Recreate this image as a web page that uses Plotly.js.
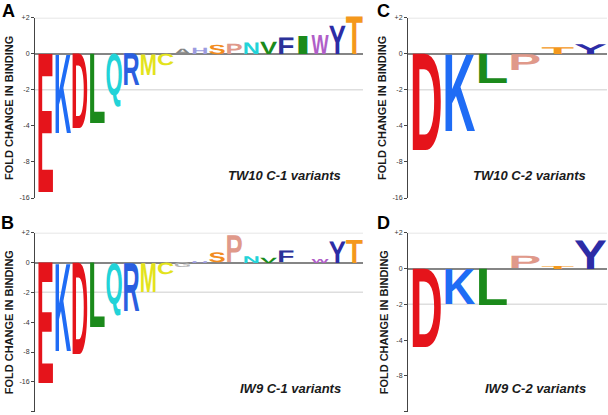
<!DOCTYPE html>
<html>
<head>
<meta charset="utf-8">
<script src="https://cdn.plot.ly/plotly-3.0.1.min.js"></script>
<style>
html,body{margin:0;padding:0;background:#ffffff;}
#chart{width:608px;height:415px;}
</style>
</head>
<body>
<div id="chart"></div>
<script>
// ---- data (signed fold change in binding; 1 = no change) ----
const lettersA = ['E','K','D','L','Q','R','M','C','A','H','S','P','N','V','F','I','W','Y','T'];
const foldA    = [-14.3,-4.6,-4.2,-3.8,-2.8,-1.84,-1.49,-1.25,1.11,1.13,1.2,1.22,1.25,1.27,1.38,1.42,1.44,1.72,2.08];

const lettersB = ['E','K','D','L','Q','R','M','C','G','H','S','P','N','V','F','I','W','Y','T'];
const foldB    = [-16.6,-7.8,-8.4,-4.5,-3.4,-3.05,-1.97,-1.31,-1.12,1.04,1.26,1.88,1.17,1.13,1.31,1.0,1.1,1.65,1.72];

const lettersC = ['D','K','L','P','T','Y'];
const foldC    = [-6.4,-4.45,-1.76,-1.36,1.14,1.21];

const lettersD = ['D','K','L','P','T','Y'];
const foldD    = [-4.57,-1.98,-2.02,1.27,1.06,1.74];

const tickFolds16 = [2,1,-2,-4,-8,-16];
const tickText16  = ['+2','0','-2','-4','-8','-16'];
const tickFolds32 = [2,1,-2,-4,-8,-16,-32];
const tickText32  = ['+2','0','-2','-4','-8','-16','-32'];
const gridFolds   = [2,-2];

const panelTags   = ['A','B','C','D'];
const panelNotes  = ['TW10 C-1 variants','IW9 C-1 variants','TW10 C-2 variants','IW9 C-2 variants'];
const yTitle      = 'FOLD CHANGE IN BINDING';

const residueColors = {
  E:'#e5141b', D:'#e5141b', K:'#1f6cf5', R:'#2a5fe0', L:'#1b8a1b', V:'#1b8a1b', I:'#1b8a1b',
  Q:'#22d3d8', N:'#22d3d8', M:'#e3e31c', C:'#e3e31c', G:'#b4b4b4', A:'#858585',
  H:'#9c9ce0', S:'#f28c1e', T:'#f4981c', P:'#e0998a', F:'#2b3199', Y:'#2c2ca6', W:'#b05ec8'
};

// ---- helpers ----
const toLog = f => f > 0 ? Math.log2(f) : -Math.log2(-f);
const FONT = 'Liberation Sans';
const GLYPH_SIZE = 100;

const panels = [
  {letters: lettersA, fold: foldA, xa:'x',  ya:'y'},
  {letters: lettersB, fold: foldB, xa:'x2', ya:'y2'},
  {letters: lettersC, fold: foldC, xa:'x3', ya:'y3'},
  {letters: lettersD, fold: foldD, xa:'x4', ya:'y4'}
];

const traces = panels.map(p => ({
  type:'scatter', mode:'text', xaxis:p.xa, yaxis:p.ya,
  x: p.letters,
  y: p.fold.map(f => toLog(f) / 2),
  text: p.letters,
  textposition:'middle center',
  textfont:{family:FONT, size:GLYPH_SIZE, weight:'bold', color:p.letters.map(l => residueColors[l])},
  hoverinfo:'skip', showlegend:false, cliponaxis:false
}));

function xAxis(domain, range){
  return {domain, range, type:'category', showgrid:false, zeroline:false, showline:false,
          showticklabels:false, ticks:'', fixedrange:true};
}
function yAxis(domain, range, folds, texts, anchor){
  return {domain, range, anchor,
    tickmode:'array', tickvals: folds.map(toLog), ticktext: texts,
    tickfont:{family:FONT, size:7, color:'#333333'},
    ticks:'outside', ticklen:3, tickwidth:1, tickcolor:'#444444',
    showline:true, linecolor:'#444444', linewidth:1,
    showgrid:false, zeroline:true, zerolinecolor:'#858585', zerolinewidth:2,
    title:{text:yTitle, font:{family:FONT, size:11, weight:'bold', color:'#1a1a1a'}, standoff:3},
    fixedrange:true};
}

const xdL = [35/608, 363/608], xdR = [408/608, 607/608];
const ydT = [1-198/415, 1-17.7/415], ydB = [1-411.7/415, 1-232.7/415];

const shapes = [];
['y','y2','y3','y4'].forEach((yr, k) => {
  const xr = ['x','x2','x3','x4'][k];
  gridFolds.forEach(g => shapes.push({type:'line', xref: xr + ' domain', yref: yr,
    x0:0, x1:1, y0:toLog(g), y1:toLog(g), line:{color:'#dedede', width:1.5}, layer:'below'}));
});

const tagPos   = [[8.5,0],[7,212],[383.5,0],[383.5,212]];
const notePos  = [[343,175],[343,388],[588,175],[588,388]];
const annotations = [];
panelTags.forEach((t, k) => annotations.push({xref:'paper', yref:'paper', x:tagPos[k][0]/608, y:1-tagPos[k][1]/415,
  text:t, showarrow:false, xanchor:'center', yanchor:'top', borderpad:0,
  font:{family:FONT, size:18, weight:'bold', color:'#000000'}}));
panelNotes.forEach((t, k) => annotations.push({xref:'paper', yref:'paper', x:notePos[k][0]/608, y:1-notePos[k][1]/415,
  text:t, showarrow:false, xanchor:'right', yanchor:'middle',
  font:{family:FONT, size:13, weight:'bold', style:'italic', color:'#1a1a1a'}}));

const layout = {
  width:608, height:415, margin:{l:0,r:0,t:0,b:0},
  paper_bgcolor:'#ffffff', plot_bgcolor:'rgba(0,0,0,0)', showlegend:false,
  xaxis:  xAxis(xdL, [-0.6, 18.5]),
  xaxis2: xAxis(xdL, [-0.6, 18.5]),
  xaxis3: xAxis(xdR, [-0.55, 5.5]),
  xaxis4: xAxis(xdR, [-0.55, 5.5]),
  yaxis:  yAxis(ydT, [toLog(-16), toLog(2)], tickFolds16, tickText16, 'x'),
  yaxis2: yAxis(ydB, [toLog(-32), toLog(2)], tickFolds32, tickText32, 'x2'),
  yaxis3: yAxis(ydT, [toLog(-16), toLog(2)], tickFolds16, tickText16, 'x3'),
  yaxis4: yAxis(ydB, [toLog(-16), toLog(2)], tickFolds16, tickText16, 'x4'),
  shapes, annotations
};

// stretch every residue letter so its glyph fills the column from 0 to its value
function stretchLetters(gd){
  const fl = gd._fullLayout;
  const ctx = document.createElement('canvas').getContext('2d');
  const axName = (id, c) => c + 'axis' + id.slice(1);
  gd.querySelectorAll('.scatterlayer .trace').forEach(tg => {
    const cd = tg.__data__; if(!cd || !cd[0]) return;
    const tr = cd[0].trace; const p = panels[tr.index];
    const xa = fl[axName(tr.xaxis,'x')], ya = fl[axName(tr.yaxis,'y')];
    const fs = tr.textfont.size;
    ctx.font = 'bold ' + fs + 'px "' + FONT + '"';
    tg.querySelectorAll('.textpoint').forEach((g, j) => {
      const d = g.__data__ || {};
      const i = (d.i !== undefined) ? d.i : j;
      const t = g.querySelector('text'); if(!t) return;
      const letter = p.letters[i];
      const v = toLog(p.fold[i]);
      const xc = (typeof d.x === 'number') ? d.x : i;
      const x0 = xa.l2p(xc - 0.5), x1 = xa.l2p(xc + 0.5);
      const yb = ya.l2p(0), yv = ya.l2p(v);
      const top = Math.min(yb, yv), h = Math.abs(yv - yb);
      if(h < 0.3){ g.style.display = 'none'; return; }
      const m = ctx.measureText(letter);
      const asc = m.actualBoundingBoxAscent, desc = m.actualBoundingBoxDescent, w = m.width;
      g.removeAttribute('transform');
      t.removeAttribute('dy');
      t.setAttribute('x', 0); t.setAttribute('y', 0); t.setAttribute('text-anchor', 'start');
      t.setAttribute('text-rendering', 'geometricPrecision');
      t.querySelectorAll('tspan').forEach(s => { s.setAttribute('x', 0); s.setAttribute('y', 0); s.removeAttribute('dy'); });
      t.setAttribute('transform', 'translate(' + x0 + ',' + top + ') scale(' + ((x1 - x0) / w) + ',' + (h / (asc + desc)) + ') translate(0,' + asc + ')');
    });
  });
}

Plotly.newPlot('chart', traces, layout, {staticPlot:true, displayModeBar:false, responsive:false})
  .then(gd => stretchLetters(gd));
</script>
</body>
</html>
